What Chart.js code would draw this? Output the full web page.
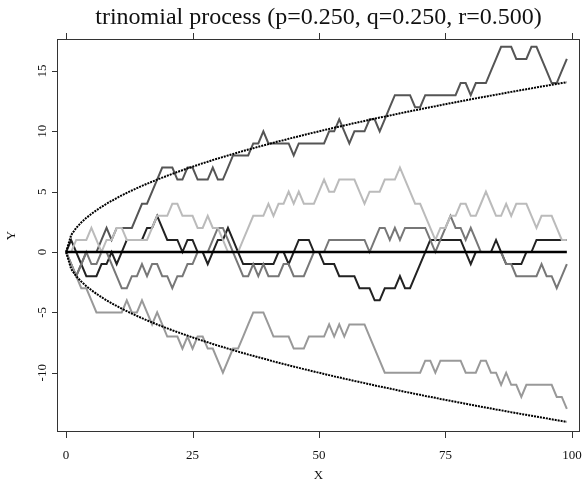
<!DOCTYPE html>
<html><head><meta charset="utf-8">
<script src="https://cdn.jsdelivr.net/npm/chart.js@4"></script>
<style>html,body{margin:0;padding:0;background:#fff}canvas{display:block}</style>
</head><body>
<canvas id="c" width="582" height="480"></canvas>
<script>
const titleText = "trinomial process (p=0.250, q=0.250, r=0.500)";
const xTicks = [0, 25, 50, 75, 100];
const yTicks = [-10, -5, 0, 5, 10, 15];
const steps = [0,1,2,3,4,5,6,7,8,9,10,11,12,13,14,15,16,17,18,19,20,21,22,23,24,25,26,27,28,29,30,31,32,33,34,35,36,37,38,39,40,41,42,43,44,45,46,47,48,49,50,51,52,53,54,55,56,57,58,59,60,61,62,63,64,65,66,67,68,69,70,71,72,73,74,75,76,77,78,79,80,81,82,83,84,85,86,87,88,89,90,91,92,93,94,95,96,97,98,99];
const pathA = [0,-1,-2,-1,0,0,0,1,2,1,2,2,2,2,3,4,4,5,6,7,7,7,6,6,7,7,6,6,6,7,6,6,7,8,8,8,8,9,9,10,9,9,9,9,9,8,9,9,9,9,9,9,10,10,11,10,9,10,10,10,11,11,10,11,12,13,13,13,13,12,12,13,13,13,13,13,13,13,14,14,13,14,14,14,15,16,17,17,17,16,16,16,17,17,16,15,14,14,15,16];
const pathB = [0,1,0,-1,-2,-2,-2,-1,-1,0,-1,0,1,1,1,1,2,2,3,2,1,1,1,0,1,1,0,0,-1,0,1,1,2,1,0,-1,-1,-1,-1,-1,-1,-1,0,0,-1,0,1,1,1,0,0,-1,-1,-1,-2,-2,-2,-2,-3,-3,-3,-4,-4,-3,-3,-3,-2,-3,-3,-2,-1,0,1,1,1,1,1,1,1,0,-1,0,0,0,0,1,0,-1,-1,-1,-1,0,0,1,1,1,1,1,1,1];
const pathC = [0,0,1,1,1,2,1,0,1,1,2,2,1,1,1,1,1,2,3,3,3,4,4,3,3,3,2,2,3,2,2,1,0,0,0,1,2,3,3,3,4,3,4,4,5,4,5,4,4,4,5,6,5,5,6,6,6,6,5,4,5,5,5,6,6,6,7,6,5,4,4,3,2,1,2,2,3,3,4,4,3,3,4,5,4,3,3,4,3,4,4,4,3,2,3,3,3,2,1,1];
const pathD = [0,-1,-2,-1,0,-1,-1,0,0,-1,-2,-3,-3,-2,-2,-1,-2,-1,-1,-2,-2,-3,-2,-2,-1,-1,0,0,0,1,2,2,1,0,-1,-2,-2,-1,-2,-1,-2,-2,-2,-1,-1,-2,-2,-2,-1,0,0,0,1,1,1,1,1,1,1,1,0,1,2,2,1,2,1,2,2,2,2,2,1,0,1,2,3,2,2,1,2,1,0,0,0,0,0,-1,-1,-2,-2,-2,-2,-2,-1,-2,-2,-3,-2,-1];
const pathE = [0,-1,-2,-3,-3,-4,-5,-5,-5,-5,-5,-5,-4,-5,-5,-4,-5,-6,-5,-6,-7,-7,-7,-8,-7,-8,-7,-7,-8,-8,-9,-10,-9,-8,-8,-7,-6,-5,-5,-5,-6,-7,-7,-7,-7,-8,-8,-8,-7,-7,-7,-7,-6,-7,-6,-7,-6,-6,-6,-6,-7,-8,-9,-10,-10,-10,-10,-10,-10,-10,-10,-9,-9,-10,-9,-9,-9,-9,-9,-10,-10,-10,-9,-9,-10,-10,-11,-10,-11,-11,-12,-11,-11,-11,-11,-11,-11,-12,-12,-13];
const zeroLine = [0,0,0,0,0,0,0,0,0,0,0,0,0,0,0,0,0,0,0,0,0,0,0,0,0,0,0,0,0,0,0,0,0,0,0,0,0,0,0,0,0,0,0,0,0,0,0,0,0,0,0,0,0,0,0,0,0,0,0,0,0,0,0,0,0,0,0,0,0,0,0,0,0,0,0,0,0,0,0,0,0,0,0,0,0,0,0,0,0,0,0,0,0,0,0,0,0,0,0,0];
const upperBand = [0,1.41,2,2.45,2.83,3.16,3.46,3.74,4,4.24,4.47,4.69,4.9,5.1,5.29,5.48,5.66,5.83,6,6.16,6.32,6.48,6.63,6.78,6.93,7.07,7.21,7.35,7.48,7.62,7.75,7.87,8,8.12,8.25,8.37,8.49,8.6,8.72,8.83,8.94,9.06,9.17,9.27,9.38,9.49,9.59,9.7,9.8,9.9,10,10.1,10.2,10.3,10.39,10.49,10.58,10.68,10.77,10.86,10.95,11.05,11.14,11.22,11.31,11.4,11.49,11.58,11.66,11.75,11.83,11.92,12,12.08,12.17,12.25,12.33,12.41,12.49,12.57,12.65,12.73,12.81,12.88,12.96,13.04,13.11,13.19,13.27,13.34,13.42,13.49,13.56,13.64,13.71,13.78,13.86,13.93,14,14.07];
const lowerBand = [0,-1.41,-2,-2.45,-2.83,-3.16,-3.46,-3.74,-4,-4.24,-4.47,-4.69,-4.9,-5.1,-5.29,-5.48,-5.66,-5.83,-6,-6.16,-6.32,-6.48,-6.63,-6.78,-6.93,-7.07,-7.21,-7.35,-7.48,-7.62,-7.75,-7.87,-8,-8.12,-8.25,-8.37,-8.49,-8.6,-8.72,-8.83,-8.94,-9.06,-9.17,-9.27,-9.38,-9.49,-9.59,-9.7,-9.8,-9.9,-10,-10.1,-10.2,-10.3,-10.39,-10.49,-10.58,-10.68,-10.77,-10.86,-10.95,-11.05,-11.14,-11.22,-11.31,-11.4,-11.49,-11.58,-11.66,-11.75,-11.83,-11.92,-12,-12.08,-12.17,-12.25,-12.33,-12.41,-12.49,-12.57,-12.65,-12.73,-12.81,-12.88,-12.96,-13.04,-13.11,-13.19,-13.27,-13.34,-13.42,-13.49,-13.56,-13.64,-13.71,-13.78,-13.86,-13.93,-14,-14.07];

function pts(arr){ return steps.map((x,i)=>({x:x, y:arr[i]})); }
const SERIF = '"Liberation Serif","DejaVu Serif",serif';

const rAxes = {
  id:'rAxes',
  beforeDraw(chart){
    const c = chart.ctx; c.save(); c.fillStyle='#fff'; c.fillRect(0,0,chart.width,chart.height); c.restore();
  },
  afterDraw(chart){
    const c = chart.ctx, a = chart.chartArea, sx = chart.scales.x, sy = chart.scales.y;
    c.save();
    c.strokeStyle = '#333'; c.lineWidth = 1;
    c.strokeRect(Math.round(a.left)+0.5, Math.round(a.top)+0.5, Math.round(a.right-a.left)-1, Math.round(a.bottom-a.top)-1);
    c.beginPath();
    xTicks.forEach(v=>{
      const px = Math.round(sx.getPixelForValue(v))+0.5;
      c.moveTo(px, a.bottom); c.lineTo(px, a.bottom+6);
      c.moveTo(px, a.top); c.lineTo(px, a.top-6);
    });
    yTicks.forEach(v=>{
      const py = Math.round(sy.getPixelForValue(v))+0.5;
      c.moveTo(a.left, py); c.lineTo(a.left-5, py);
    });
    c.stroke();
    c.fillStyle = '#111';
    c.font = '13px ' + SERIF;
    c.textAlign = 'center'; c.textBaseline = 'middle';
    xTicks.forEach(v=>{ c.fillText(String(v), sx.getPixelForValue(v), a.bottom+24); });
    c.fillText('X', (a.left+a.right)/2, a.bottom+44);
    yTicks.forEach(v=>{
      c.save(); c.translate(a.left-14, sy.getPixelForValue(v)); c.rotate(-Math.PI/2);
      c.fillText(String(v), 0, 0); c.restore();
    });
    c.save(); c.translate(12, (a.top+a.bottom)/2); c.rotate(-Math.PI/2); c.fillText('Y',0,0); c.restore();
    c.font = '24px ' + SERIF;
    c.fillText(titleText, (a.left+a.right)/2, 18);
    c.restore();
  }
};

new Chart(document.getElementById('c'), {
  type:'line',
  data:{ datasets:[
    {data:pts(upperBand), borderColor:'#000', borderWidth:2, borderDash:[2,1]},
    {data:pts(lowerBand), borderColor:'#000', borderWidth:2, borderDash:[2,1]},
    {data:pts(zeroLine), borderColor:'#000', borderWidth:2.5},
    {data:pts(pathE), borderColor:'#999', borderWidth:2},
    {data:pts(pathC), borderColor:'#bbb', borderWidth:2},
    {data:pts(pathD), borderColor:'#777', borderWidth:2},
    {data:pts(pathA), borderColor:'#555', borderWidth:2},
    {data:pts(pathB), borderColor:'#222', borderWidth:2}
  ]},
  options:{
    responsive:false, animation:false, devicePixelRatio:1,
    layout:{padding:{left:57,right:2,top:39,bottom:48}},
    scales:{
      x:{type:'linear', min:-1.8, max:101.6, display:false},
      y:{type:'linear', min:-14.91, max:17.65, display:false}
    },
    elements:{point:{radius:0}, line:{tension:0, borderJoinStyle:'miter', borderCapStyle:'butt'}},
    plugins:{legend:{display:false}, tooltip:{enabled:false}, title:{display:false}}
  },
  plugins:[rAxes]
});
</script>
</body></html>
